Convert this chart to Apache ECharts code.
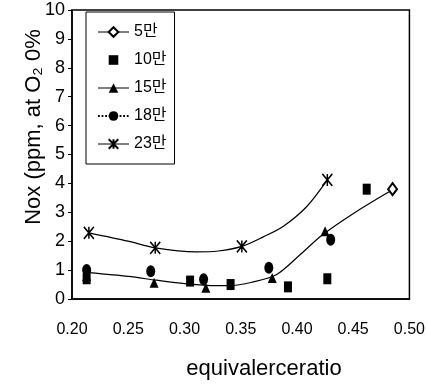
<!DOCTYPE html>
<html>
<head>
<meta charset="utf-8">
<script src="https://cdn.jsdelivr.net/npm/echarts@6/dist/echarts.min.js"></script>
<style>
  html, body { margin: 0; padding: 0; background: #fff; }
  #chart { width: 428px; height: 385px; }
</style>
</head>
<body>
<div id="chart"></div>
<script>
// 측정값 (equivalence ratio, NOx)
let names = ['5만', '10만', '15만', '18만', '23만'];
let p5 = [[0.485, 3.8]];
let p10 = [[0.213, 0.7], [0.305, 0.62], [0.341, 0.5], [0.392, 0.42], [0.427, 0.7], [0.462, 3.8]];
let p15 = [[0.213, 0.8], [0.273, 0.56], [0.319, 0.39], [0.378, 0.73], [0.425, 2.34]];
let p18 = [[0.213, 1.0], [0.27, 0.96], [0.317, 0.68], [0.375, 1.08], [0.43, 2.05]];
let p23 = [[0.215, 2.29], [0.274, 1.77], [0.351, 1.82], [0.427, 4.12]];

// 추세선
let trendLow = [[0.215, 0.91], [0.25, 0.78], [0.275, 0.65], [0.3, 0.53], [0.32, 0.47], [0.34, 0.46],
  [0.36, 0.58], [0.382, 0.85], [0.403, 1.54], [0.423, 2.23], [0.453, 3.03], [0.485, 3.78]];
let trendHigh = [[0.215, 2.29], [0.25, 2.0], [0.274, 1.77], [0.31, 1.63], [0.33, 1.66], [0.351, 1.82],
  [0.37, 2.15], [0.388, 2.52], [0.409, 3.21], [0.427, 4.12]];

let font = "'Liberation Sans', 'Noto Sans CJK KR', sans-serif";
let starPath = 'path://M0,0L10,10M10,0L0,10M5,0L5,10';

let myChart = echarts.init(document.getElementById('chart'));
let noLine = { opacity: 0 };
let option = {
  animation: false,
  grid: {
    left: 72, right: 18, top: 10, bottom: 86,
    show: true, borderColor: '#000', borderWidth: 1.5
  },
  legend: {
    orient: 'vertical',
    left: 86, top: 12,
    padding: [12, 8, 12, 11],
    itemWidth: 31, itemHeight: 12, itemGap: 12,
    borderColor: '#000', borderWidth: 1,
    textStyle: { color: '#000', fontSize: 16, fontFamily: font },
    data: [
      { name: '5만', lineStyle: { color: '#000', width: 1, opacity: 1 } },
      { name: '10만' },
      { name: '15만', lineStyle: { color: '#000', width: 1, opacity: 1 } },
      { name: '18만', lineStyle: { color: '#000', width: 1.8, opacity: 1, type: 'dotted' } },
      { name: '23만', lineStyle: { color: '#000', width: 1, opacity: 1 } }
    ]
  },
  xAxis: {
    type: 'value',
    min: 0.2, max: 0.5, interval: 0.05,
    splitLine: { show: false },
    axisLine: { lineStyle: { color: '#000', width: 1.5 } },
    axisTick: { show: false },
    axisLabel: {
      color: '#000', fontSize: 16, margin: 23, fontFamily: "'Liberation Sans Narrow', " + font,
      formatter: v => v.toFixed(2)
    }
  },
  yAxis: {
    type: 'value',
    min: 0, max: 10, interval: 1,
    splitLine: { show: false },
    axisLine: { lineStyle: { color: '#000', width: 1.5 } },
    axisTick: { show: true, inside: false, length: 4, lineStyle: { color: '#000' } },
    axisLabel: { color: '#000', fontSize: 18, margin: 7, fontFamily: font }
  },
  graphic: [
    {
      type: 'text',
      x: 34, y: 127,
      rotation: Math.PI / 2,
      style: {
        text: 'Nox (ppm, at O₂ 0%',
        font: "22px " + font,
        fill: '#000',
        align: 'center',
        verticalAlign: 'middle'
      }
    },
    {
      type: 'text',
      x: 264, y: 369,
      style: {
        text: 'equivalerceratio',
        font: "22px " + font,
        fill: '#000',
        align: 'center',
        verticalAlign: 'middle'
      }
    }
  ],
  series: [
    {
      name: 'trendLow', type: 'line', data: trendLow, smooth: 0.3, symbol: 'none',
      lineStyle: { color: '#000', width: 1.2 }, z: 1
    },
    {
      name: 'trendHigh', type: 'line', data: trendHigh, smooth: 0.3, symbol: 'none',
      lineStyle: { color: '#000', width: 1.2 }, z: 1
    },
    {
      name: names[0], type: 'line', data: p5, symbol: 'emptyDiamond', symbolSize: [9, 12],
      itemStyle: { color: '#000', borderColor: '#000', borderWidth: 1 },
      lineStyle: { color: '#000', width: 1 }, z: 3
    },
    {
      name: names[1], type: 'line', data: p10, symbol: 'rect', symbolSize: [8, 11],
      itemStyle: { color: '#000', opacity: 1 }, lineStyle: noLine, z: 3
    },
    {
      name: names[2], type: 'line', data: p15, symbol: 'triangle', symbolSize: [9, 10],
      itemStyle: { color: '#000' }, lineStyle: noLine, z: 3
    },
    {
      name: names[3], type: 'line', data: p18, symbol: 'circle', symbolSize: [9, 12],
      itemStyle: { color: '#000' }, lineStyle: noLine, z: 3
    },
    {
      name: names[4], type: 'line', data: p23, symbol: starPath, symbolSize: [10, 12],
      itemStyle: { color: 'none', borderColor: '#000', borderWidth: 1.6 }, lineStyle: noLine, z: 3
    }
  ]
};
myChart.setOption(option);
</script>
</body>
</html>
